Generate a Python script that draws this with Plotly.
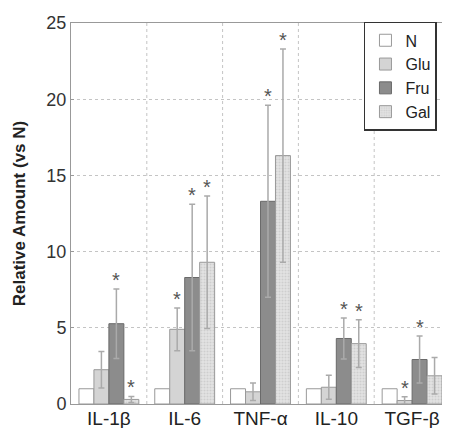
import plotly.graph_objects as go

categories = ["IL-1β", "IL-6", "TNF-α", "IL-10", "TGF-β"]
series_names = ["N", "Glu", "Fru", "Gal"]

n_vals = [1, 1, 1, 1, 1]
glu_vals = [2.25, 4.9, 0.8, 1.1, 0.23]
fru_vals = [5.27, 8.3, 13.3, 4.3, 2.92]
gal_vals = [0.3, 9.3, 16.3, 3.96, 1.85]

glu_err = [1.2, 1.4, 0.57, 0.79, 0.25]
fru_err = [2.28, 4.8, 6.3, 1.34, 1.55]
gal_err = [0.2, 4.35, 7.0, 1.57, 1.2]

glu_star = [False, True, False, False, True]
fru_star = [True, True, True, True, True]
gal_star = [True, True, True, True, False]

y_ticks = [0, 5, 10, 15, 20, 25]

font_family = "Liberation Sans, Arial, sans-serif"

fig = go.Figure()

fig.add_trace(go.Bar(
    name="N", x=categories, y=n_vals,
    marker=dict(color="#ffffff", line=dict(color="#999999", width=1)),
))
fig.add_trace(go.Bar(
    name="Glu", x=categories, y=glu_vals,
    marker=dict(color="#d4d4d4", line=dict(color="#999999", width=1)),
    error_y=dict(type="data", array=glu_err, color="#aaaaaa", thickness=1.5, width=3),
))
fig.add_trace(go.Bar(
    name="Fru", x=categories, y=fru_vals,
    marker=dict(color="#8c8c8c", line=dict(color="#6a6a6a", width=1)),
    error_y=dict(type="data", array=fru_err, color="#aaaaaa", thickness=1.5, width=3),
))
fig.add_trace(go.Bar(
    name="Gal", x=categories, y=gal_vals,
    marker=dict(color="#e2e2e2", line=dict(color="#999999", width=1),
                pattern=dict(shape=".", fgcolor="#b8b8b8", bgcolor="#e4e4e4",
                             size=3, solidity=0.4)),
    error_y=dict(type="data", array=gal_err, color="#aaaaaa", thickness=1.5, width=3),
))

bargap = 0.21
group_w = 1 - bargap
offsets = [(-0.5 + (i + 0.5) / 4) * group_w for i in range(4)]

annotations = []
for si, (vals, errs, stars) in enumerate([(glu_vals, glu_err, glu_star),
                                          (fru_vals, fru_err, fru_star),
                                          (gal_vals, gal_err, gal_star)], start=1):
    for ci in range(len(categories)):
        if stars[ci]:
            annotations.append(dict(
                x=ci + offsets[si], y=vals[ci] + errs[ci], xref="x", yref="y",
                text="*", showarrow=False, yanchor="bottom", yshift=-4,
                font=dict(size=20, color="#555555", family=font_family),
            ))

shapes = []
for k in range(len(categories) - 1):
    shapes.append(dict(type="line", xref="x", yref="paper", x0=k + 0.5, x1=k + 0.5,
                       y0=0, y1=1, line=dict(color="#c4c4c4", width=1, dash="dot"),
                       layer="below"))

fig.update_layout(
    width=442, height=420,
    margin=dict(l=63, r=0, t=15, b=23.5, autoexpand=False),
    paper_bgcolor="white", plot_bgcolor="white",
    barmode="group", bargap=bargap, bargroupgap=0,
    font=dict(family=font_family, color="#333333"),
    showlegend=True,
    legend=dict(
        x=0.773, y=1.003, xanchor="left", yanchor="top",
        bordercolor="#333333", borderwidth=1.5, bgcolor="white",
        font=dict(size=16, color="#222222", family=font_family),
        tracegroupgap=0, itemwidth=30,
    ),
    annotations=annotations,
    shapes=shapes,
)

fig.update_xaxes(
    range=[-0.5, len(categories) - 0.5],
    showgrid=False, showline=True, linecolor="#999999", linewidth=1, mirror=True,
    ticks="", tickfont=dict(size=19, color="#222222"), automargin=False,
    ticklabelstandoff=-3,
)
fig.update_yaxes(
    range=[0, 25], tickvals=y_ticks,
    showgrid=True, gridcolor="#c4c4c4", griddash="dot", gridwidth=1,
    showline=True, linecolor="#999999", linewidth=1, mirror=True,
    ticks="inside", ticklen=3, tickcolor="#999999",
    tickfont=dict(size=18, color="#333333"),
    title=dict(text="<b>Relative Amount (vs N)</b>", font=dict(size=17, color="#222222"),
               standoff=16),
    zeroline=False, automargin=False,
)

fig.write_html("out.html")
